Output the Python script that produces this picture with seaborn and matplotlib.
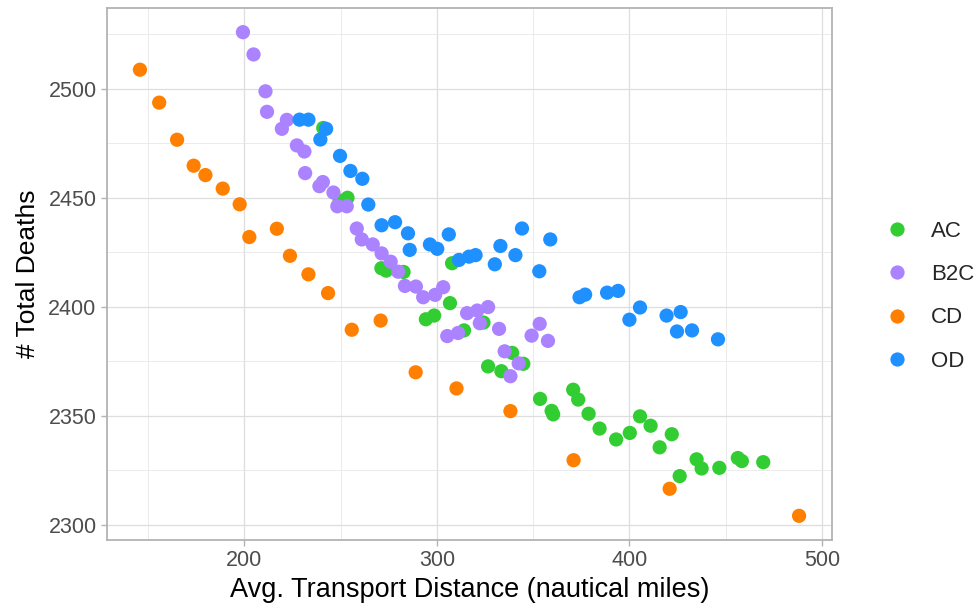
import numpy as np
import pandas as pd
import matplotlib
matplotlib.use('Agg')
import matplotlib.pyplot as plt
import seaborn as sns
from matplotlib.ticker import MultipleLocator

# AC
ac_x = [241.0, 249.5, 253.6, 271.2, 273.7, 282.7, 307.9, 306.8, 294.3, 298.6, 314.1, 324.2,
        339.1, 344.9, 326.6, 333.5, 353.6, 359.6, 360.4, 370.8, 373.4, 378.8, 384.5, 393.1,
        400.2, 405.5, 411.0, 415.7, 422.0, 426.1, 434.9, 437.5, 446.7, 456.3, 458.4, 469.5]
ac_y = [2482.0, 2448.6, 2450.0, 2417.7, 2416.6, 2416.0, 2420.0, 2401.7, 2394.3, 2396.0, 2389.2, 2392.8,
        2378.9, 2373.9, 2372.7, 2370.5, 2357.8, 2352.3, 2350.7, 2362.0, 2357.5, 2351.0, 2344.2, 2339.2,
        2342.2, 2349.8, 2345.5, 2335.6, 2341.6, 2322.4, 2330.1, 2325.9, 2326.2, 2330.7, 2329.3, 2328.8]

# B2C
b2c_x = [199.3, 204.8, 211.0, 211.8, 222.1, 219.5, 227.3, 231.2, 231.6, 239.0, 240.8, 246.3,
         248.3, 253.2, 258.4, 261.0, 266.7, 271.3, 276.0, 279.9, 283.4, 289.1, 292.9, 299.1,
         303.3, 315.7, 321.0, 326.6, 322.3, 332.3, 305.4, 311.0, 353.4, 349.2, 357.7, 335.2,
         342.5, 338.2]
b2c_y = [2525.9, 2515.7, 2498.8, 2489.4, 2485.7, 2481.6, 2474.0, 2471.2, 2461.3, 2455.3, 2457.2, 2452.4,
         2446.1, 2446.1, 2435.9, 2430.9, 2428.6, 2424.5, 2420.7, 2416.1, 2409.6, 2409.3, 2404.4, 2405.5,
         2409.0, 2397.1, 2398.3, 2399.9, 2392.5, 2389.9, 2386.6, 2388.0, 2392.2, 2386.8, 2384.4, 2379.6,
         2374.1, 2368.2]

# CD
cd_x = [145.8, 155.8, 165.1, 173.7, 179.8, 188.8, 197.6, 202.6, 216.9, 223.7, 233.3, 243.5,
        255.8, 270.8, 289.0, 310.2, 338.2, 371.0, 420.9, 488.1]
cd_y = [2508.7, 2493.6, 2476.6, 2464.7, 2460.4, 2454.2, 2447.0, 2432.0, 2435.8, 2423.4, 2414.9, 2406.3,
        2389.5, 2393.7, 2370.0, 2362.6, 2352.2, 2329.7, 2316.6, 2304.2]

# OD
od_x = [228.7, 233.3, 242.5, 239.5, 249.7, 255.1, 261.3, 264.4, 271.3, 278.3, 285.0, 285.9,
        296.4, 300.2, 306.2, 311.5, 316.7, 320.1, 330.1, 333.0, 340.8, 344.2, 353.2, 358.9,
        374.1, 377.0, 388.4, 394.1, 405.5, 400.0, 419.3, 426.6, 424.7, 432.5, 446.0]
od_y = [2485.8, 2485.8, 2481.6, 2476.7, 2469.2, 2462.3, 2458.7, 2446.9, 2437.4, 2438.8, 2433.7, 2426.1,
        2428.6, 2426.6, 2433.2, 2421.5, 2423.0, 2423.7, 2419.5, 2427.9, 2423.7, 2435.9, 2416.3, 2430.9,
        2404.4, 2405.6, 2406.5, 2407.3, 2399.7, 2394.1, 2396.0, 2397.6, 2388.7, 2389.2, 2385.1]

groups = ['AC', 'B2C', 'CD', 'OD']
colors = ['#32CD32', '#AB82FF', '#FF7F00', '#1E90FF']

df = pd.concat([
    pd.DataFrame({'dist': ac_x, 'deaths': ac_y, 'type': 'AC'}),
    pd.DataFrame({'dist': b2c_x, 'deaths': b2c_y, 'type': 'B2C'}),
    pd.DataFrame({'dist': cd_x, 'deaths': cd_y, 'type': 'CD'}),
    pd.DataFrame({'dist': od_x, 'deaths': od_y, 'type': 'OD'}),
], ignore_index=True)

sns.set_style('white')
plt.rcParams['font.family'] = ['Liberation Sans', 'DejaVu Sans']

fig = plt.figure(figsize=(9.77, 6.11), dpi=100)
ax = fig.add_axes([0.1095, 0.1162, 0.7421, 0.8707])

sns.scatterplot(data=df, x='dist', y='deaths', hue='type', hue_order=groups,
                palette=dict(zip(groups, colors)), s=105, linewidth=0, alpha=1,
                ax=ax, zorder=3)

ax.xaxis.set_major_locator(MultipleLocator(100))
ax.xaxis.set_minor_locator(MultipleLocator(50))
ax.yaxis.set_major_locator(MultipleLocator(50))
ax.yaxis.set_minor_locator(MultipleLocator(25))
ax.grid(which='major', color='#DEDEDE', linewidth=0.9, zorder=0)
ax.grid(which='minor', color='#E8E8E8', linewidth=0.6, zorder=0)
ax.set_axisbelow(True)
for sp in ax.spines.values():
    sp.set_color('#B3B3B3')
    sp.set_linewidth(1.3)
ax.tick_params(which='major', direction='out', length=4, width=1, color='#B3B3B3',
               labelsize=15.5, labelcolor='#4D4D4D', bottom=True, left=True)
ax.tick_params(which='minor', length=0)

ax.set_xlabel('Avg. Transport Distance (nautical miles)', fontsize=19.5, color='black', labelpad=4)
ax.set_ylabel('# Total Deaths', fontsize=19, color='black', labelpad=6)

leg = ax.legend(loc='center left', bbox_to_anchor=(1.031, 0.458), frameon=False, title=None,
                fontsize=16, labelspacing=1.0, handletextpad=0.55, markerscale=1.0)

fig.savefig('out.png', dpi=100)
